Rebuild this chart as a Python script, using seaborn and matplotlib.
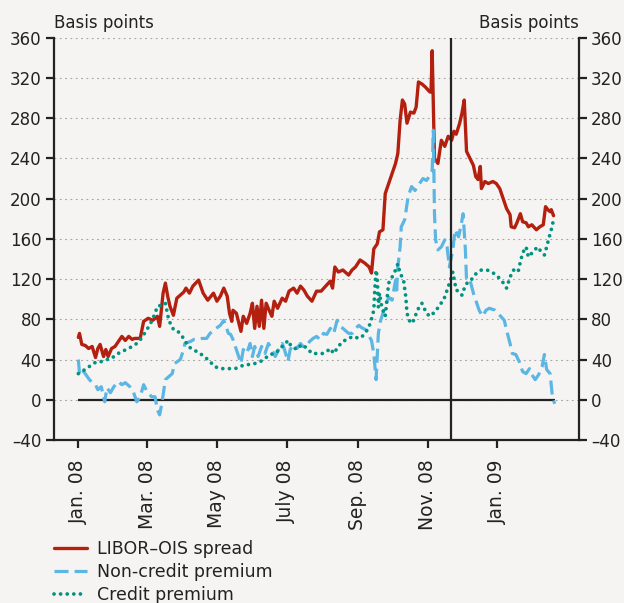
import pandas as pd
import matplotlib
matplotlib.use("Agg")
import matplotlib.pyplot as plt
from matplotlib.ticker import FuncFormatter
import seaborn as sns

# ---------------- data (days counted from 1 Jan 2008, values in basis points) -------------
START = "2008-01-01"
libor_days = [0, 1, 3, 6, 9, 12, 15, 17, 19, 22, 24, 26, 29, 32, 35, 38, 41, 44, 47, 49, 54, 57,
              61, 65, 69, 71, 74, 76, 78, 80, 83, 86, 89, 92, 94, 97, 100, 105, 109, 113, 118, 121,
              124, 127, 130, 132, 134, 135, 138, 142, 144, 147, 150, 152, 154, 156, 158, 160, 162,
              164, 167, 169, 171, 174, 178, 181, 184, 188, 191, 194, 197, 200, 204, 208, 212, 216,
              220, 222, 224, 227, 231, 236, 239, 242, 246, 250, 254, 256, 258, 261, 263, 266, 268,
              271, 274, 277, 279, 281, 283, 285, 287, 290, 293, 295, 297, 300, 303, 307, 308, 309,
              311, 314, 317, 320, 323, 326, 328, 330, 333, 335, 337, 339, 342, 345, 347, 349, 351,
              352, 355, 358, 362, 365, 368, 371, 374, 377, 378, 381, 383, 386, 388, 391, 393, 396,
              400, 403, 406, 408, 410, 412, 413, 415]
libor_bp = [62, 66, 55, 54, 51, 53, 42, 51, 55, 43, 50, 43, 51, 53, 58, 63, 59, 63, 60, 61, 61, 78,
            81, 79, 83, 73, 106, 116, 103, 93, 84, 101, 104, 107, 111, 106, 113, 119, 106, 99, 106, 98,
            103, 111, 103, 86, 78, 89, 86, 68, 83, 76, 86, 96, 71, 93, 73, 99, 71,
            96, 88, 83, 98, 91, 101, 98, 108, 111, 106, 113, 109, 103, 98, 108, 108, 113,
            118, 111, 132, 127, 129, 124, 129, 132, 139, 136, 132, 126, 150, 155, 167, 169, 205,
            215, 225, 235, 245, 278, 298, 294, 275, 286, 285, 291, 316, 314, 311, 306, 306, 347,
            240, 235, 258, 252, 262, 258, 267, 264, 275, 285, 298, 247, 240, 233, 222, 219, 232,
            210, 217, 215, 217, 215, 210, 200, 190, 184, 172, 171, 176, 185, 177, 176, 172, 174,
            169, 172, 174, 192, 189, 187, 189, 183]

noncredit_days = [0, 1, 3, 6, 9, 12, 15, 17, 20, 23, 25, 28, 31, 35, 38, 41, 45, 48, 51, 54, 57, 60,
                  64, 67, 69, 71, 73, 76, 79, 82, 84, 89, 92, 93, 98, 101, 105, 108, 112, 115, 119,
                  124, 127, 129, 131, 133, 135, 138, 140, 142, 144, 147, 150, 152, 154, 157, 160,
                  163, 166, 169, 172, 175, 178, 180, 183, 185, 188, 191, 194, 196, 199, 202, 205,
                  208, 211, 214, 217, 220, 223, 226, 229, 233, 236, 239, 242, 245, 247, 252, 254,
                  256, 258, 260, 262, 264, 266, 269, 271, 274, 277, 278, 279, 281, 282, 285, 288,
                  291, 294, 296, 298, 301, 304, 307, 309, 310, 311, 312, 314, 317, 320, 322, 324,
                  327, 329, 332, 334, 336, 338, 339, 342, 345, 348, 350, 353, 356, 359, 364, 368,
                  372, 374, 377, 379, 382, 385, 388, 391, 394, 396, 399, 402, 405, 407, 409, 412,
                  414, 416]
noncredit_bp = [40, 26, 30, 26, 21, 17, 15, 10, 13, -2, 12, 7, 13, 18, 15, 17, 13, 8, -2, 3, 15, 8,
                3, 3, -10, -15, -3, 20, 23, 26, 36, 40, 50, 56, 58, 60, 60, 61, 61, 66, 70,
                74, 79, 73, 66, 65, 60, 50, 43, 36, 50, 46, 56, 43, 53, 43, 53,
                46, 56, 50, 43, 50, 56, 50, 38, 50, 55, 51, 56, 53, 53, 58, 61,
                63, 60, 66, 65, 71, 66, 79, 73, 69, 66, 66, 71, 74, 72, 69, 63,
                59, 46, 20, 66, 79, 86, 96, 102, 99, 119, 109, 132, 152, 172, 179, 202,
                212, 208, 212, 215, 220, 218, 223, 228, 268, 185, 159, 149, 152, 159, 152, 132,
                149, 169, 162, 172, 185, 149, 119, 119, 106, 96, 89, 83, 89, 91, 89, 84,
                79, 69, 56, 46, 45, 38, 28, 26, 31, 25, 20, 25, 33, 45, 30, 26,
                3, -4]

credit_days = [0, 3, 7, 12, 16, 20, 25, 29, 33, 38, 42, 47, 51, 55, 60, 64, 67, 69, 73, 76, 79, 83,
               87, 92, 96, 100, 105, 110, 115, 119, 124, 128, 132, 137, 141, 146, 150, 154, 159,
               163, 167, 172, 176, 181, 183, 186, 191, 195, 200, 204, 208, 213, 217, 220, 223,
               227, 231, 236, 240, 245, 249, 252, 255, 258, 259, 260, 261, 262, 263, 265, 268,
               271, 274, 277, 279, 281, 284, 286, 287, 290, 293, 296, 300, 304, 307, 312, 316,
               319, 322, 325, 327, 330, 332, 335, 338, 341, 343, 346, 349, 352, 357, 361, 365,
               370, 374, 377, 380, 384, 386, 388, 391, 393, 397, 401, 405, 407, 409, 411, 413, 415]
credit_bp = [26, 28, 31, 35, 38, 38, 40, 41, 45, 48, 50, 53, 56, 61, 70, 78, 86, 93, 94, 96, 79, 70,
             68, 61, 53, 50, 47, 43, 38, 33, 31, 31, 31, 31, 33, 35, 35, 36, 38,
             41, 45, 46, 51, 56, 59, 53, 50, 55, 51, 46, 46, 46, 48, 51, 46,
             53, 58, 61, 63, 61, 64, 69, 76, 89, 112, 129, 122, 92, 106, 92, 83,
             116, 122, 129, 135, 126, 119, 102, 86, 76, 79, 89, 96, 86, 83, 88, 95,
             99, 109, 119, 127, 109, 108, 104, 114, 118, 119, 124, 127, 129, 129, 127, 124,
             118, 111, 122, 129, 127, 137, 146, 152, 142, 147, 152, 146, 144, 152, 161, 169, 179]

series_names = ["LIBOR\u2013OIS spread", "Non-credit premium", "Credit premium"]
event_date = "2008-11-21"
tick_dates = ["2008-01-01", "2008-03-01", "2008-05-01", "2008-07-01",
              "2008-09-01", "2008-11-01", "2009-01-01"]
tick_labels = ["Jan. 08", "Mar. 08", "May 08", "July 08", "Sep. 08", "Nov. 08", "Jan. 09"]
y_ticks = list(range(-40, 361, 40))
x_limits = ["2007-12-10 17:00", "2009-03-12 19:00"]
unit_label = "Basis points"

# ---------------- styling ----------------
BG = "#f5f4f2"
INK = "#222222"
RED = "#b3200f"
BLUE = "#5bb6e4"
GREEN = "#00937f"

sns.set_theme(style="white")
plt.rcParams["font.family"] = ["DejaVu Sans"]
plt.rcParams["axes.facecolor"] = BG
plt.rcParams["figure.facecolor"] = BG


def to_frame(days, vals, name):
    dates = pd.Timestamp(START) + pd.to_timedelta(days, unit="D")
    return pd.DataFrame({"date": dates, "bp": vals, "series": name})


frames = [to_frame(libor_days, libor_bp, series_names[0]),
          to_frame(noncredit_days, noncredit_bp, series_names[1]),
          to_frame(credit_days, credit_bp, series_names[2])]

fig = plt.figure(figsize=(6.24, 6.03), dpi=100)
ax = fig.add_axes([0.0865, 0.2703, 0.8406, 0.6672])

ax.set_ylim(y_ticks[0], y_ticks[-1])
ax.set_xlim(pd.Timestamp(x_limits[0]), pd.Timestamp(x_limits[1]))

# grid
ax.set_yticks(y_ticks)
ax.yaxis.set_major_formatter(FuncFormatter(lambda v, p: f"{v:.0f}".replace("-", "\u2013")))
ax.yaxis.grid(True, linestyle=(0, (1.6, 3.2)), color="#a5a5a5", linewidth=0.8)
ax.xaxis.grid(False)
ax.set_axisbelow(True)

all_dates = pd.concat([f["date"] for f in frames])
ax.hlines(0, all_dates.min(), all_dates.max(), color=INK, linewidth=1.6, zorder=1.5)

styles = [
    dict(color=RED, linewidth=2.4, linestyle="-", solid_joinstyle="round"),
    dict(color=BLUE, linewidth=2.3, linestyle=(0, (4.4, 1.9))),
    dict(color=GREEN, linewidth=2.7, linestyle=(0, (0.01, 1.75)), dash_capstyle="round"),
]
for f, st, name in zip(frames, styles, series_names):
    sns.lineplot(data=f, x="date", y="bp", ax=ax, estimator=None, label=name, legend=False, **st)

ax.axvline(pd.Timestamp(event_date), color=INK, linewidth=1.6, zorder=3)

# spines
for side in ["left", "right", "bottom"]:
    ax.spines[side].set_visible(True)
    ax.spines[side].set_color(INK)
    ax.spines[side].set_linewidth(1.6)
ax.spines["top"].set_visible(False)

ax.set_xticks([pd.Timestamp(d) for d in tick_dates])
ax.set_xticklabels(tick_labels, rotation=90)
ax.tick_params(axis="x", direction="out", length=6, width=1.6, color=INK,
               labelcolor=INK, labelsize=13.5, pad=8, bottom=True)
ax.tick_params(axis="y", direction="out", length=6, width=1.6, color=INK,
               labelcolor=INK, labelsize=12, pad=3, left=True, right=True,
               labelleft=True, labelright=True)
ax.set_xlabel("")
ax.set_ylabel("")

fig.text(0.0865, 0.9536, unit_label, ha="left", va="baseline", fontsize=12, color=INK)
fig.text(0.9271, 0.9536, unit_label, ha="right", va="baseline", fontsize=12, color=INK)

handles = [h for h in ax.get_lines() if h.get_label() in series_names]
fig.legend(handles, series_names, loc="upper left", bbox_to_anchor=(0.0865, 0.104),
           frameon=False, handlelength=1.9, handletextpad=0.55, labelspacing=0.28,
           borderpad=0, borderaxespad=0, fontsize=12.5, labelcolor=INK)

fig.savefig("out.png", dpi=100, facecolor=BG)
